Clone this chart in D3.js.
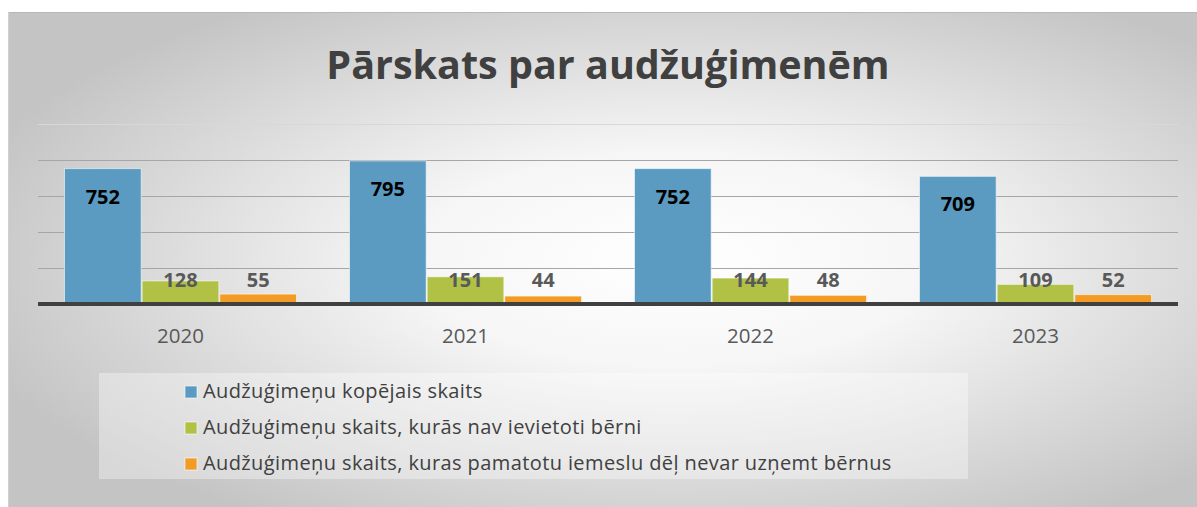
<!DOCTYPE html>
<html>
<head>
<meta charset="utf-8">
<script src="https://cdn.jsdelivr.net/npm/d3@7"></script>
<style>
  html, body { margin: 0; padding: 0; background: #ffffff; }
  svg { display: block; }
  text { font-family: "Open Sans", Lato, sans-serif; }
</style>
</head>
<body>
<svg id="chart" width="1197" height="507"></svg>
<script>
const title = "Pārskats par audžuģimenēm";
const categories = ["2020", "2021", "2022", "2023"];
const seriesNames = [
  "Audžuģimeņu kopējais skaits",
  "Audžuģimeņu skaits, kurās nav ievietoti bērni",
  "Audžuģimeņu skaits, kuras pamatotu iemeslu dēļ nevar uzņemt bērnus"
];
const totalFamilies = [752, 795, 752, 709];
const emptyFamilies = [128, 151, 144, 109];
const unableFamilies = [55, 44, 48, 52];
const yTicks = [0, 200, 400, 600, 800, 1000];
const colors = ["#5B9BC1", "#B0C146", "#F39C25"];

const series = [totalFamilies, emptyFamilies, unableFamilies];

const svg = d3.select("#chart");
const W = 1197, H = 507;

// background gradient
const defs = svg.append("defs");
const grad = defs.append("radialGradient").attr("id", "bg")
  .attr("cx", "0.56").attr("cy", "0.5").attr("r", "0.62");
grad.append("stop").attr("offset", "0%").attr("stop-color", "#ffffff");
grad.append("stop").attr("offset", "35%").attr("stop-color", "#f6f6f6");
grad.append("stop").attr("offset", "100%").attr("stop-color", "#c4c4c4");

svg.append("rect").attr("x", 8).attr("y", 12).attr("width", W - 8).attr("height", H - 12)
  .attr("fill", "url(#bg)");
svg.append("line").attr("x1", 8).attr("x2", W).attr("y1", 12.5).attr("y2", 12.5)
  .attr("stroke", "#b8b8b8").attr("stroke-width", 1);
svg.append("line").attr("x1", 8.5).attr("x2", 8.5).attr("y1", 12).attr("y2", H)
  .attr("stroke", "#d0d0d0").attr("stroke-width", 1);

// title
svg.append("text").attr("x", 608).attr("y", 79)
  .attr("text-anchor", "middle")
  .attr("font-size", 39.5).attr("font-weight", 700).attr("fill", "#404040")
  .text(title);

const plot = { left: 38, right: 1178, top: 124, bottom: 304 };

const x = d3.scaleBand().domain(categories)
  .range([plot.left, plot.right]).paddingInner(0.1825).paddingOuter(0.09125);
const xs = d3.scaleBand().domain(d3.range(series.length)).range([0, x.bandwidth()]).padding(0);
const y = d3.scaleLinear().domain([0, 1000]).range([plot.bottom, plot.top]);

// gridlines
svg.append("g").selectAll("line").data(yTicks.filter(d => d > 0)).join("line")
  .attr("x1", plot.left).attr("x2", plot.right)
  .attr("y1", d => Math.round(y(d)) + 0.5).attr("y2", d => Math.round(y(d)) + 0.5)
  .attr("stroke", d => d === 1000 ? "#d8d8d8" : "#a6a6a6").attr("stroke-width", 1);

// bars
const groups = svg.append("g").selectAll("g").data(categories).join("g")
  .attr("transform", d => `translate(${x(d)},0)`);

groups.selectAll("rect").data((c, i) => series.map((s, k) => ({ k, v: s[i] }))).join("rect")
  .attr("x", d => xs(d.k) + 0.5)
  .attr("width", xs.bandwidth() - 1)
  .attr("y", d => y(d.v))
  .attr("height", d => y(0) - y(d.v))
  .attr("fill", d => colors[d.k])
  .attr("stroke", "rgba(255,255,255,0.55)")
  .attr("stroke-width", 1);

// labels
groups.selectAll("text").data((c, i) => series.map((s, k) => ({ k, v: s[i] }))).join("text")
  .attr("x", d => xs(d.k) + xs.bandwidth() / 2)
  .attr("y", d => d.k === 0 ? y(d.v) + 35 : y(0) - 17)
  .attr("text-anchor", "middle")
  .attr("font-size", 20).attr("font-weight", 700)
  .attr("fill", d => d.k === 0 ? "#000000" : "#595959")
  .text(d => d.v);

// baseline axis
svg.append("line").attr("x1", plot.left).attr("x2", plot.right)
  .attr("y1", y(0)).attr("y2", y(0))
  .attr("stroke", "#404040").attr("stroke-width", 4);

// x axis labels
const xAxis = d3.axisBottom(x).tickSize(0).tickPadding(0);
const xg = svg.append("g").attr("transform", `translate(0,${y(0)})`).call(xAxis);
xg.select(".domain").remove();
xg.selectAll("text")
  .attr("dy", null).attr("y", 39)
  .attr("font-size", 20.5).attr("fill", "#595959")
  .style("font-family", "'Open Sans', Lato, sans-serif");

// legend
svg.append("rect").attr("x", 99).attr("y", 373).attr("width", 869).attr("height", 106)
  .attr("fill", "rgba(255,255,255,0.35)");
const lg = svg.append("g").selectAll("g").data(seriesNames).join("g")
  .attr("transform", (d, i) => `translate(185,${398 + i * 36})`);
lg.append("rect").attr("x", 0).attr("y", -12).attr("width", 12).attr("height", 12)
  .attr("fill", (d, i) => colors[i]).attr("stroke", "rgba(255,255,255,0.6)");
lg.append("text").attr("x", 18).attr("y", 0)
  .attr("font-size", 20).attr("letter-spacing", 0.4).attr("fill", "#404040")
  .text(d => d);
</script>
</body>
</html>
